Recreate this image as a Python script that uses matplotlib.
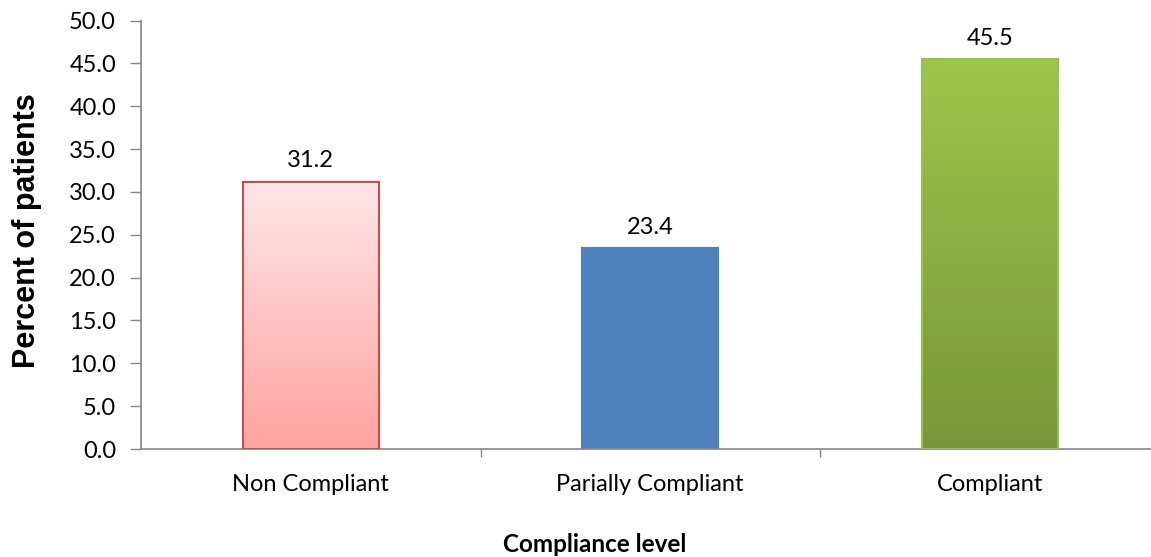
import matplotlib.pyplot as plt
from matplotlib.colors import LinearSegmentedColormap
import numpy as np

categories = ["Non Compliant", "Parially Compliant", "Compliant"]
percent = [31.2, 23.4, 45.5]
y_ticks = [0, 5, 10, 15, 20, 25, 30, 35, 40, 45, 50]

# fill: (top colour, bottom colour) for gradient bars, None for flat fill
fills = [("#FFE6E7", "#FFA3A1"), None, ("#9FC64B", "#77963A")]
flat_colors = ["#FFC0C0", "#4F81BD", "#8DB045"]
edge_colors = ["#C0504D", "#4F81BD", "#98BE55"]

plt.rcParams['font.family'] = ['Lato', 'DejaVu Sans']

fig = plt.figure(figsize=(11.51, 5.57), dpi=100)
ax = fig.add_axes([141 / 1151, 1 - 449 / 557, 1018.5 / 1151, 428.5 / 557])

x = np.arange(len(categories))
bars = ax.bar(x, percent, width=0.4, color=flat_colors, edgecolor=edge_colors,
              linewidth=1.5, zorder=2)

for bar, fill in zip(bars, fills):
    if fill is None:
        continue
    cmap = LinearSegmentedColormap.from_list("grad", [fill[1], fill[0]])
    grad = np.linspace(0, 1, 256).reshape(-1, 1)
    x0 = bar.get_x()
    im = ax.imshow(grad, cmap=cmap, origin="lower", aspect="auto",
                   extent=[x0, x0 + bar.get_width(), 0, bar.get_height()],
                   zorder=2.5)
    im.set_clip_path(bar)
    # redraw outline above the gradient
    ax.bar(bar.get_x() + bar.get_width() / 2, bar.get_height(), width=bar.get_width(),
           fill=False, edgecolor=bar.get_edgecolor(), linewidth=1.5, zorder=3)

for xi, v in zip(x, percent):
    ax.text(xi, v + 1.2, f"{v:.1f}", ha="center", va="bottom", fontsize=17)

ax.set_xlim(-0.5, 2.5)
ax.set_ylim(0, 50)
ax.set_yticks(y_ticks)
ax.set_yticklabels([f"{t:.1f}" for t in y_ticks], fontsize=17)

ax.set_xticks(x)
ax.set_xticklabels(categories, fontsize=17)
ax.tick_params(axis="x", length=0, pad=18)
ax.set_xticks([0.5, 1.5], minor=True)
ax.tick_params(axis="x", which="minor", length=6, color="#868686", width=1)
ax.tick_params(axis="y", length=8, color="#868686", width=1, pad=10)

for side in ["top", "right"]:
    ax.spines[side].set_visible(False)
for side in ["left", "bottom"]:
    ax.spines[side].set_color("#868686")
    ax.spines[side].set_linewidth(1.2)

fig.text(27 / 1151, 1 - 231 / 557, "Percent of patients", rotation=90,
         ha="center", va="center", fontsize=22, fontweight="bold",
         family=["Liberation Sans", "DejaVu Sans"])
fig.text(595 / 1151, 1 - 545 / 557, "Compliance level", ha="center", va="center",
         fontsize=17.5, fontweight="bold")

fig.savefig("out.png", dpi=100)
